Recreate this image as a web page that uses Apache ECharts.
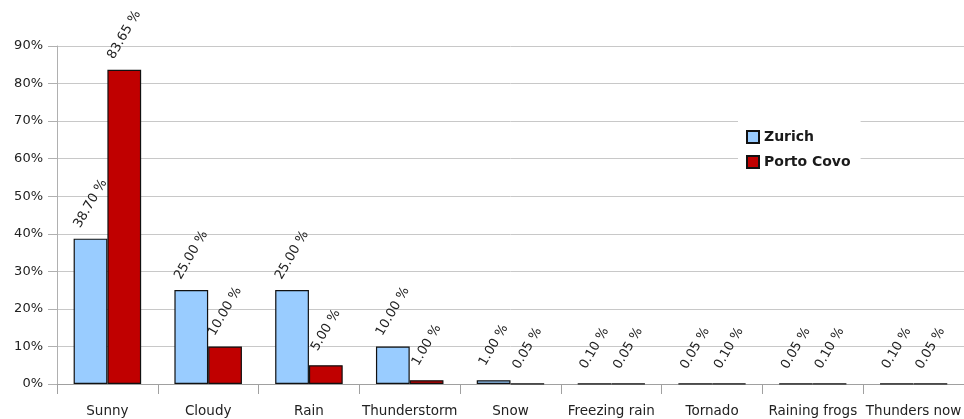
<!DOCTYPE html>
<html>
<head>
<meta charset="utf-8">
<script src="https://cdn.jsdelivr.net/npm/echarts@6/dist/echarts.min.js"></script>
<style>
  html, body { margin: 0; padding: 0; background: #fff; }
  #chart { width: 964px; height: 419px; }
</style>
</head>
<body>
<div id="chart"></div>
<script>
// Weather frequency (%) per condition for two places
const categories = ['Sunny', 'Cloudy', 'Rain', 'Thunderstorm', 'Snow', 'Freezing rain', 'Tornado', 'Raining frogs', 'Thundersnow'];
const zurich = [38.70, 25.00, 25.00, 10.00, 1.00, 0.10, 0.05, 0.05, 0.10];
const portoCovo = [83.65, 10.00, 5.00, 1.00, 0.05, 0.05, 0.10, 0.10, 0.05];
const yTicks = { min: 0, max: 90, step: 10 };

const font = '"DejaVu Sans", Verdana, sans-serif';

const valueLabel = {
  show: true,
  position: 'top',
  rotate: 60,
  align: 'center',
  verticalAlign: 'middle',
  distance: 35,
  fontFamily: font,
  fontSize: 13,
  color: '#222',
  formatter: p => p.value.toFixed(2) + ' %'
};

const chart = echarts.init(document.getElementById('chart'), null, { renderer: 'canvas' });
chart.setOption({
  animation: false,
  backgroundColor: '#fff',
  textStyle: { fontFamily: font },
  grid: { left: 57, top: 46, width: 916, height: 338, containLabel: false },
  legend: {
    orient: 'vertical',
    left: 738,
    top: 115,
    width: 124,
    backgroundColor: '#fff',
    padding: [15, 10, 8, 8],
    itemWidth: 12,
    itemHeight: 12,
    itemGap: 11,
    icon: 'rect',
    textStyle: { fontFamily: font, fontSize: 14, fontWeight: 'bold', color: '#1a1a1a' },
    data: ['Zurich', 'Porto Covo']
  },
  xAxis: {
    type: 'category',
    data: categories,
    axisLine: { lineStyle: { color: '#a0a0a0' } },
    axisTick: { show: true, length: 10, lineStyle: { color: '#a0a0a0' } },
    axisLabel: {
      interval: 0,
      margin: 20,
      fontFamily: font,
      fontSize: 13.5,
      color: '#222',
      formatter: v => v === 'Thundersnow' ? 'Thunders now' : v
    }
  },
  yAxis: {
    type: 'value',
    min: yTicks.min,
    max: yTicks.max,
    interval: yTicks.step,
    axisLine: { show: true, lineStyle: { color: '#b0b0b0' } },
    axisTick: { show: true, length: 9, lineStyle: { color: '#b0b0b0' } },
    axisLabel: { margin: 14, fontFamily: font, fontSize: 13, color: '#222', formatter: '{value}%' },
    splitLine: { show: true, lineStyle: { color: '#c8c8c8' } }
  },
  series: [
    {
      name: 'Zurich',
      type: 'bar',
      data: zurich,
      barGap: '0%',
      barCategoryGap: '33%',
      itemStyle: { color: '#99ccff', borderColor: '#111', borderWidth: 1.2 },
      label: valueLabel
    },
    {
      name: 'Porto Covo',
      type: 'bar',
      data: portoCovo,
      barGap: '0%',
      barCategoryGap: '33%',
      itemStyle: { color: '#c00000', borderColor: '#111', borderWidth: 1.2 },
      label: valueLabel
    }
  ]
});
</script>
</body>
</html>
